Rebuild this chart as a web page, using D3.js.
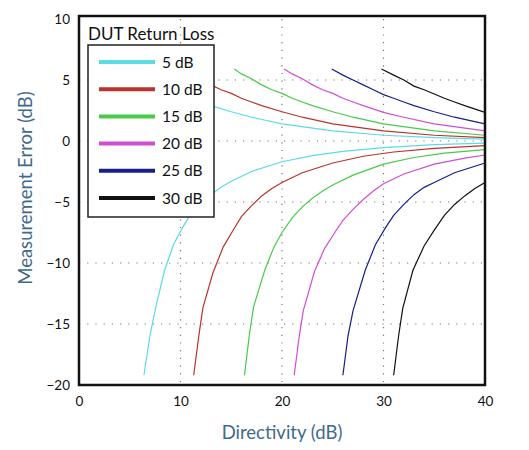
<!DOCTYPE html>
<html>
<head>
<meta charset="utf-8">
<script src="https://cdn.jsdelivr.net/npm/d3@7"></script>
<style>
  body { margin: 0; background: #fff; }
  text { font-family: Lato, "Open Sans", sans-serif; }
</style>
</head>
<body>
<svg id="chart"></svg>
<script>
/* CONSTANTS AND GLOBALS */
const width = 529,
  height = 450;

// DUT return loss values (legend) and their colours
const returnLoss = [5, 10, 15, 20, 25, 30];
const lossLabels = ["5 dB", "10 dB", "15 dB", "20 dB", "25 dB", "30 dB"];
const lossColors = ["#5cdbe6", "#b8342c", "#46cc46", "#d04ed4", "#16208a", "#111111"];

// tick values
const xTicks = [0, 10, 20, 30, 40];
const yTicks = [10, 5, 0, -5, -10, -15, -20];

// [directivity dB, error dB] - upper (positive) curves
const upper5 = [[5, 6.0], [6, 5.5], [7, 5.1], [8, 4.6], [9, 4.2], [10, 3.9], [11, 3.5], [12, 3.2], [13, 2.9], [15, 2.4], [17, 1.95], [20, 1.4], [25, 0.83], [30, 0.47], [35, 0.27], [40, 0.15]];
const upper10 = [[10, 6.0], [11, 5.5], [12, 5.1], [13, 4.6], [14, 4.2], [15, 3.9], [16, 3.5], [17, 3.2], [18, 2.9], [20, 2.4], [22, 1.95], [25, 1.4], [30, 0.83], [35, 0.47], [40, 0.27]];
const upper15 = [[15.3, 5.9], [16, 5.5], [17, 5.1], [18, 4.6], [19, 4.2], [20, 3.9], [21, 3.5], [22, 3.2], [23, 2.9], [25, 2.4], [27, 1.95], [30, 1.4], [35, 0.83], [40, 0.47]];
const upper20 = [[20.2, 5.9], [21, 5.5], [22, 5.1], [23, 4.6], [24, 4.2], [25, 3.9], [26, 3.5], [27, 3.2], [28, 2.9], [30, 2.35], [32, 1.95], [35, 1.4], [40, 0.83]];
const upper25 = [[24.9, 5.9], [26, 5.4], [27, 5.0], [28, 4.6], [29, 4.2], [30, 3.8], [31, 3.5], [32, 3.2], [33, 2.9], [35, 2.4], [37, 1.95], [40, 1.4]];
const upper30 = [[29.8, 5.9], [31, 5.4], [32, 5.0], [33, 4.5], [34, 4.2], [35, 3.85], [36, 3.5], [37, 3.2], [38, 2.9], [40, 2.35]];

// lower (negative) curves
const lower5 = [[6.4, -19.2], [7.0, -15.9], [7.6, -13.5], [8.4, -10.7], [9.3, -8.5], [10.2, -7.1], [11, -6.0], [12, -5.15], [13, -4.4], [14, -3.8], [15, -3.3], [17, -2.5], [20, -1.7], [23, -1.2], [26, -0.85], [30, -0.55], [35, -0.3], [40, -0.18]];
const lower10 = [[11.3, -19.2], [11.8, -16.0], [12.2, -13.7], [13.2, -10.8], [14.2, -8.7], [15.2, -7.3], [16, -6.2], [17, -5.3], [18, -4.5], [19, -3.9], [20, -3.4], [22, -2.6], [25, -1.8], [28, -1.25], [31, -0.9], [35, -0.6], [40, -0.38]];
const lower15 = [[16.3, -19.2], [16.8, -15.8], [17.2, -13.6], [18.3, -10.6], [19.2, -8.7], [20, -7.5], [21, -6.3], [22, -5.4], [23, -4.7], [24, -4.1], [25, -3.6], [27, -2.8], [30, -1.9], [33, -1.35], [36, -1.0], [40, -0.7]];
const lower20 = [[21.2, -19.2], [21.7, -16.0], [22.1, -13.9], [23.2, -10.7], [24.2, -8.8], [25.2, -7.5], [26, -6.5], [27, -5.6], [28, -4.8], [29, -4.1], [30, -3.5], [32, -2.7], [35, -1.9], [38, -1.4], [40, -1.15]];
const lower25 = [[26.0, -19.2], [26.5, -16.0], [27.0, -13.9], [28.2, -10.6], [29.2, -8.5], [30.2, -7.1], [31, -6.1], [32, -5.2], [33, -4.4], [34, -3.8], [35, -3.4], [37, -2.6], [40, -1.8]];
const lower30 = [[31.0, -19.2], [31.5, -15.9], [31.9, -13.7], [32.9, -10.6], [34, -8.6], [35, -7.3], [36, -6.1], [37, -5.2], [38, -4.5], [39, -3.9], [40, -3.4]];

const upperCurves = [upper5, upper10, upper15, upper20, upper25, upper30];
const lowerCurves = [lower5, lower10, lower15, lower20, lower25, lower30];

const svg = d3.select("#chart")
  .attr("width", width)
  .attr("height", height);

// scales
const x = d3.scaleLinear().domain([0, 40]).range([79, 485]);
const y = d3.scaleLinear().domain([-20, 10]).range([385, 19]);

// dotted grid
svg.append("g")
  .selectAll("line")
  .data(xTicks.slice(1, -1))
  .join("line")
    .attr("x1", d => x(d)).attr("x2", d => x(d))
    .attr("y1", y(10)).attr("y2", y(-20))
    .attr("stroke", "#777")
    .attr("stroke-width", 1.2)
    .attr("stroke-dasharray", "1.2,6.5");

svg.append("g")
  .selectAll("line")
  .data(yTicks.slice(1, -1))
  .join("line")
    .attr("x1", x(0)).attr("x2", x(40))
    .attr("y1", d => y(d)).attr("y2", d => y(d))
    .attr("stroke", "#777")
    .attr("stroke-width", 1.2)
    .attr("stroke-dasharray", "1.2,7");

// curves
const line = d3.line()
  .x(d => x(d[0]))
  .y(d => y(d[1]));

const curveData = [];
returnLoss.forEach((rl, i) => {
  curveData.push({ color: lossColors[i], pts: upperCurves[i] });
  curveData.push({ color: lossColors[i], pts: lowerCurves[i] });
});

svg.append("g")
  .selectAll("path")
  .data(curveData)
  .join("path")
    .attr("d", d => line(d.pts))
    .attr("fill", "none")
    .attr("stroke", d => d.color)
    .attr("stroke-width", 1.2);

// frame
svg.append("rect")
  .attr("x", x(0))
  .attr("y", y(10) - 3)
  .attr("width", x(40) - x(0))
  .attr("height", y(-20) - y(10) + 3)
  .attr("fill", "none")
  .attr("stroke", "#111")
  .attr("stroke-width", 2.5);

// axes (labels only, no tick marks)
const xAxis = svg.append("g")
  .attr("transform", `translate(0,${y(-20) + 7})`)
  .call(d3.axisBottom(x).tickValues(xTicks).tickSize(0).tickPadding(4));
const yAxis = svg.append("g")
  .attr("transform", `translate(${x(0) - 9},0)`)
  .call(d3.axisLeft(y).tickValues(yTicks).tickSize(0).tickPadding(0));
[xAxis, yAxis].forEach(a => {
  a.select(".domain").remove();
  a.selectAll("text")
    .attr("font-family", "Lato, sans-serif")
    .attr("font-size", 13.5)
    .attr("fill", "#111");
});

// axis titles
svg.append("text")
  .attr("x", 282)
  .attr("y", 439)
  .attr("text-anchor", "middle")
  .attr("font-size", 18.5)
  .attr("fill", "#3f6a8a")
  .text("Directivity (dB)");

svg.append("text")
  .attr("transform", "translate(32,188) rotate(-90)")
  .attr("text-anchor", "middle")
  .attr("font-size", 18.5)
  .attr("fill", "#3f6a8a")
  .text("Measurement Error (dB)");

// legend
const legend = svg.append("g");
legend.append("text")
  .attr("x", 88)
  .attr("y", 40)
  .attr("font-size", 17)
  .attr("fill", "#111")
  .text("DUT Return Loss");

legend.append("rect")
  .attr("x", 88)
  .attr("y", 45)
  .attr("width", 126)
  .attr("height", 172)
  .attr("fill", "#fff")
  .attr("stroke", "#222")
  .attr("stroke-width", 1.5);

const rows = legend.selectAll("g.row")
  .data(lossLabels)
  .join("g")
    .attr("class", "row")
    .attr("transform", (d, i) => `translate(0,${62 + i * 27.2})`);

rows.append("line")
  .attr("x1", 99).attr("x2", 155)
  .attr("stroke", (d, i) => lossColors[i])
  .attr("stroke-width", 4);

rows.append("text")
  .attr("x", 162)
  .attr("y", 5.5)
  .attr("font-size", 15.5)
  .attr("fill", "#111")
  .text(d => d);
</script>
</body>
</html>
